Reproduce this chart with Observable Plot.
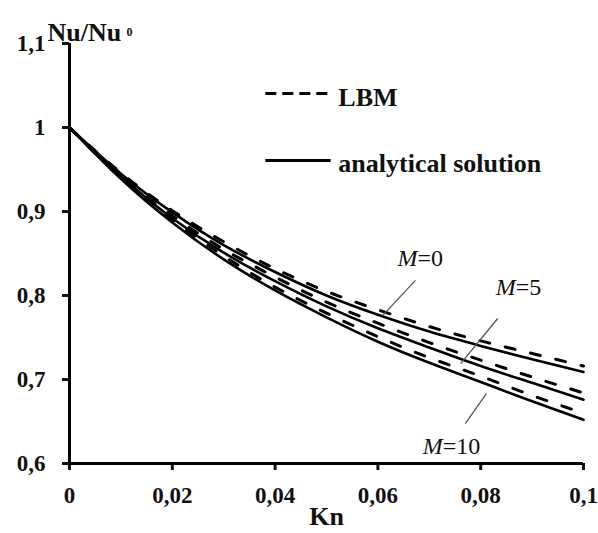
<!DOCTYPE html>
<html>
<head>
<meta charset="utf-8">
<script src="https://cdn.jsdelivr.net/npm/d3@7"></script>
<script src="https://cdn.jsdelivr.net/npm/@observablehq/plot@0.6"></script>
<style>
  html, body { margin: 0; padding: 0; background: #fff; }
  svg text { font-family: "Liberation Serif", "Times New Roman", serif; }
</style>
</head>
<body>
<div id="chart"></div>
<script>
// Knudsen number samples
const kn = [0, 0.01, 0.02, 0.03, 0.04, 0.05, 0.06, 0.07, 0.08, 0.09, 0.1];
// Analytical solution Nu/Nu0
const ana0  = [1, 0.945, 0.899, 0.860, 0.828, 0.800, 0.777, 0.757, 0.740, 0.724, 0.709];
const ana5  = [1, 0.942, 0.892, 0.851, 0.817, 0.787, 0.761, 0.738, 0.716, 0.696, 0.676];
const ana10 = [1, 0.939, 0.887, 0.843, 0.806, 0.774, 0.745, 0.720, 0.697, 0.674, 0.652];
// LBM results Nu/Nu0
const lbm0  = [1, 0.946, 0.901, 0.864, 0.832, 0.805, 0.783, 0.763, 0.746, 0.731, 0.716];
const lbm5  = [1, 0.943, 0.895, 0.855, 0.822, 0.792, 0.767, 0.744, 0.723, 0.703, 0.684];
const lbm10 = [1, 0.940, 0.890, 0.847, 0.810, 0.779, 0.751, 0.726, 0.704, 0.681, 0.660];

const xTicks = [0, 0.02, 0.04, 0.06, 0.08, 0.1];
const yTicks = [0.6, 0.7, 0.8, 0.9, 1, 1.1];
const fmt = d => String(d).replace(".", ",");

// curve labels and leader lines (data units)
const labels = [
  {m: "0",  x: 0.0677, y: 0.844},
  {m: "5",  x: 0.0868, y: 0.8095},
  {m: "10", x: 0.0726, y: 0.620}
];
const leaders = [
  {x1: 0.0673, y1: 0.818, x2: 0.0609, y2: 0.776},
  {x1: 0.0833, y1: 0.7726, x2: 0.0761, y2: 0.719},
  {x1: 0.0770, y1: 0.6476, x2: 0.0811, y2: 0.6833}
];
// legend entries (data units)
const legendLBM = [{name: "LBM", x1: 0.0381, x2: 0.0508, y: 1.0405, ty: 1.0357, tx: 0.0523}];
const legendAna = [{name: "analytical solution", x1: 0.0381, x2: 0.0508, y: 0.9607, ty: 0.957, tx: 0.0523}];

const series = [
  {M: 0, ana: ana0, lbm: lbm0},
  {M: 5, ana: ana5, lbm: lbm5},
  {M: 10, ana: ana10, lbm: lbm10}
];
const anaRows = series.flatMap(s => kn.map((k, i) => ({kn: k, v: s.ana[i], M: s.M})));
const lbmRows = series.flatMap(s => kn.map((k, i) => ({kn: k, v: s.lbm[i], M: s.M})));

const font = '"Liberation Serif", "Times New Roman", serif';

const chart = Plot.plot({
  width: 598,
  height: 533,
  marginLeft: 69,
  marginRight: 15,
  marginTop: 43,
  marginBottom: 70,
  x: {domain: [0, 0.1]},
  y: {domain: [0.6, 1.1]},
  style: {fontFamily: font, fontWeight: "bold", fontSize: "23px", background: "#fff", color: "#111"},
  marks: [
    Plot.axisX({ticks: xTicks, tickFormat: fmt, tickSize: 7, tickPadding: 16, strokeWidth: 3, label: null, fontSize: 23, fontFamily: font, fontWeight: "bold"}),
    Plot.axisY({ticks: yTicks, tickFormat: fmt, tickSize: 7, tickPadding: 17, strokeWidth: 3, label: null, fontSize: 23, fontFamily: font, fontWeight: "bold"}),
    Plot.line(anaRows, {x: "kn", y: "v", z: "M", stroke: "#000", strokeWidth: 2.6, curve: "natural"}),
    Plot.line(lbmRows, {x: "kn", y: "v", z: "M", stroke: "#000", strokeWidth: 3, strokeDasharray: "10,16", curve: "natural"}),
    Plot.ruleX([0], {y1: 0.6, y2: 1.1, stroke: "#000", strokeWidth: 3}),
    Plot.ruleY([0.6], {x1: 0, x2: 0.1, stroke: "#000", strokeWidth: 3}),
    Plot.link(leaders, {x1: "x1", y1: "y1", x2: "x2", y2: "y2", stroke: "#555", strokeWidth: 1.3}),
    Plot.text(labels, {x: "x", y: "y", text: d => "=" + d.m, textAnchor: "start", fontSize: 24, fontWeight: "normal", fontFamily: font}),
    Plot.text(labels, {x: "x", y: "y", text: d => "M", textAnchor: "end", fontSize: 24, fontStyle: "italic", fontWeight: "normal", fontFamily: font}),
    Plot.link(legendLBM, {x1: "x1", x2: "x2", y1: "y", y2: "y", stroke: "#000", strokeWidth: 3, strokeDasharray: "11,6"}),
    Plot.link(legendAna, {x1: "x1", x2: "x2", y1: "y", y2: "y", stroke: "#000", strokeWidth: 3}),
    Plot.text(legendLBM, {x: "tx", y: "ty", text: "name", textAnchor: "start", fontSize: 26, fontFamily: font, fontWeight: "bold"}),
    Plot.text(legendAna, {x: "tx", y: "ty", text: "name", textAnchor: "start", fontSize: 26, fontFamily: font, fontWeight: "bold"}),
    Plot.text(["Nu/Nu"], {frameAnchor: "top-left", textAnchor: "start", dx: -22, dy: -21, fontSize: 26, fontFamily: font, fontWeight: "bold"}),
    Plot.text(["0"], {frameAnchor: "top-left", textAnchor: "start", dx: 57, dy: -16, fontSize: 12, fontFamily: font, fontWeight: "bold"}),
    Plot.text(["Kn"], {frameAnchor: "bottom", dy: 61, fontSize: 26, fontFamily: font, fontWeight: "bold"})
  ]
});
document.getElementById("chart").appendChild(chart);
</script>
</body>
</html>
